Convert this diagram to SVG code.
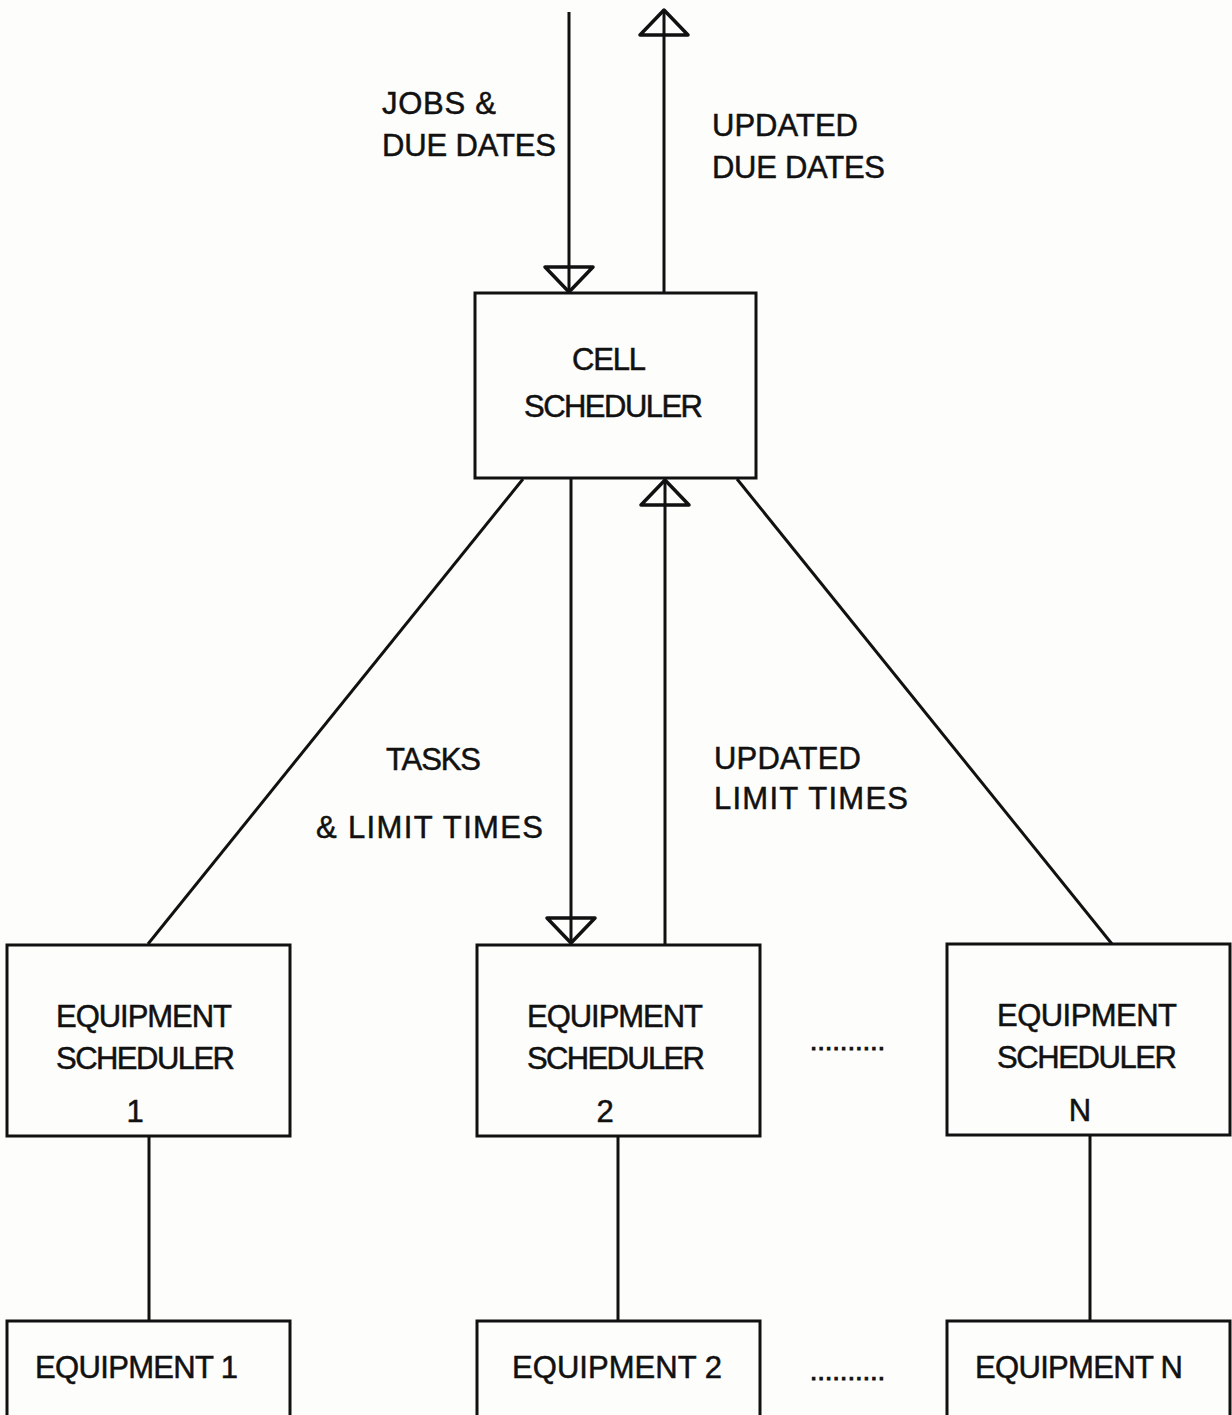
<svg xmlns="http://www.w3.org/2000/svg" width="1232" height="1415" viewBox="0 0 1232 1415">
<style>
.box{fill:none;stroke:#111;stroke-width:3}
.ln{fill:none;stroke:#111;stroke-width:3}
.t{font-family:"Liberation Sans",Arial,sans-serif;font-size:31px;fill:#111;stroke:#111;stroke-width:0.5}
.c{text-anchor:middle}
.d{font-size:26px;stroke-width:1}
</style>
<defs>
<marker id="tri" markerUnits="userSpaceOnUse" markerWidth="32" markerHeight="56" refX="27" refY="28" orient="auto" overflow="visible">
<path d="M2,4 L27,28 L2,52 Z" fill="none" stroke="#111" stroke-width="3.5" stroke-linejoin="round"/>
</marker>
</defs>
<rect width="1232" height="1415" fill="#fdfdfb"/>
<g id="connectors">
<line class="ln" x1="569" y1="12" x2="569" y2="292" marker-end="url(#tri)"/>
<line class="ln" x1="664" y1="293" x2="664" y2="10" marker-end="url(#tri)"/>
<line class="ln" x1="523" y1="479" x2="148" y2="944"/>
<line class="ln" x1="571" y1="479" x2="571" y2="943" marker-end="url(#tri)"/>
<line class="ln" x1="665" y1="944" x2="665" y2="480" marker-end="url(#tri)"/>
<line class="ln" x1="737" y1="479" x2="1112" y2="944"/>
<line class="ln" x1="149" y1="1136" x2="149" y2="1321"/>
<line class="ln" x1="618" y1="1136" x2="618" y2="1321"/>
<line class="ln" x1="1090" y1="1135" x2="1090" y2="1321"/>
<text class="t" x="382" y="114" textLength="114">JOBS &amp;</text>
<text class="t" x="382" y="156" textLength="174">DUE DATES</text>
<text class="t" x="712" y="136" textLength="146">UPDATED</text>
<text class="t" x="712" y="178" textLength="173">DUE DATES</text>
<text class="t" x="386" y="770" textLength="95">TASKS</text>
<text class="t" x="316" y="838" textLength="227">&amp; LIMIT TIMES</text>
<text class="t" x="714" y="769" textLength="147">UPDATED</text>
<text class="t" x="714" y="809" textLength="194">LIMIT TIMES</text>
<text class="t d" x="810" y="1050" textLength="75">..........</text>
<text class="t d" x="810" y="1380" textLength="75">..........</text>
</g>
<g id="cell-scheduler">
<rect class="box" x="475" y="293" width="281" height="185"/>
<text class="t" x="572" y="370" textLength="74">CELL</text>
<text class="t" x="524" y="417" textLength="179">SCHEDULER</text>
</g>
<g id="equipment-scheduler-1">
<rect class="box" x="7" y="945" width="283" height="191"/>
<text class="t" x="56" y="1027" textLength="176">EQUIPMENT</text>
<text class="t" x="56" y="1069" textLength="179">SCHEDULER</text>
<text class="t c" x="135" y="1122">1</text>
</g>
<g id="equipment-scheduler-2">
<rect class="box" x="477" y="945" width="283" height="191"/>
<text class="t" x="527" y="1027" textLength="176">EQUIPMENT</text>
<text class="t" x="527" y="1069" textLength="178">SCHEDULER</text>
<text class="t c" x="605" y="1122">2</text>
</g>
<g id="equipment-scheduler-n">
<rect class="box" x="947" y="944" width="283" height="191"/>
<text class="t" x="997" y="1026" textLength="180">EQUIPMENT</text>
<text class="t" x="997" y="1068" textLength="180">SCHEDULER</text>
<text class="t c" x="1080" y="1121">N</text>
</g>
<g id="equipment-1">
<rect class="box" x="7" y="1321" width="283" height="100"/>
<text class="t" x="35" y="1378" textLength="203">EQUIPMENT 1</text>
</g>
<g id="equipment-2">
<rect class="box" x="477" y="1321" width="283" height="100"/>
<text class="t" x="512" y="1378" textLength="210">EQUIPMENT 2</text>
</g>
<g id="equipment-n">
<rect class="box" x="947" y="1321" width="283" height="100"/>
<text class="t" x="975" y="1378" textLength="208">EQUIPMENT N</text>
</g>
</svg>
